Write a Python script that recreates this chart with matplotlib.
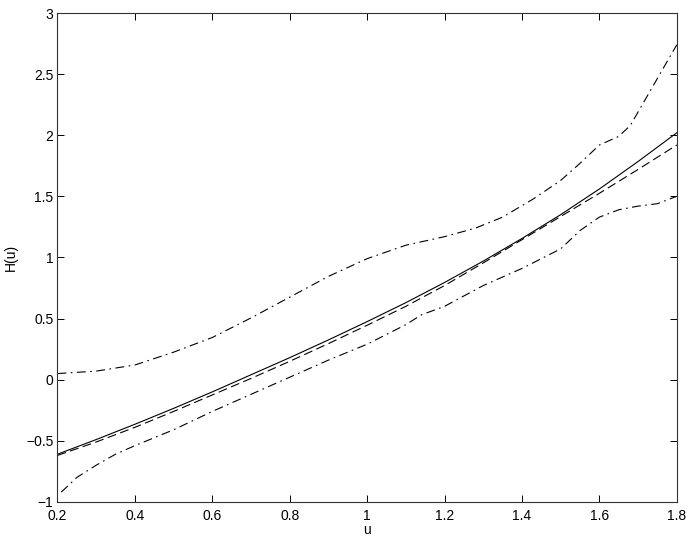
import matplotlib

matplotlib.use("Agg")
import matplotlib.pyplot as plt

plt.rcParams["font.family"] = ["Liberation Sans", "DejaVu Sans"]
plt.rcParams["font.size"] = 10

# estimate H(u) and reference curve, sampled on u = 0.2 .. 1.8
u_line = [0.2, 0.3, 0.4, 0.5, 0.6, 0.7, 0.8, 0.9, 1.0, 1.1, 1.2, 1.3, 1.4, 1.5, 1.6, 1.7, 1.8]
h_true = [-0.61, -0.49, -0.365, -0.235, -0.10, 0.04, 0.18, 0.325, 0.475, 0.63, 0.795, 0.97,
          1.155, 1.35, 1.56, 1.785, 2.02]
h_est = [-0.62, -0.51, -0.39, -0.26, -0.125, 0.01, 0.15, 0.295, 0.445, 0.60, 0.77, 0.955,
         1.145, 1.335, 1.525, 1.72, 1.92]

# confidence band
u_upper = [0.2, 0.3, 0.4, 0.5, 0.6, 0.7, 0.8, 0.9, 1.0, 1.1, 1.2, 1.28, 1.35, 1.43, 1.5,
           1.55, 1.6, 1.65, 1.68, 1.72, 1.76, 1.8]
h_upper = [0.05, 0.07, 0.12, 0.225, 0.345, 0.505, 0.675, 0.845, 0.99, 1.10, 1.17, 1.24, 1.33,
           1.48, 1.63, 1.77, 1.92, 1.99, 2.08, 2.30, 2.52, 2.74]
u_lower = [0.21, 0.25, 0.3, 0.35, 0.4, 0.5, 0.6, 0.7, 0.8, 0.9, 1.0, 1.1, 1.14, 1.2, 1.3,
           1.4, 1.5, 1.55, 1.6, 1.65, 1.7, 1.75, 1.8]
h_lower = [-0.92, -0.80, -0.70, -0.61, -0.54, -0.41, -0.26, -0.12, 0.02, 0.16, 0.29, 0.45,
           0.53, 0.60, 0.77, 0.91, 1.07, 1.22, 1.33, 1.39, 1.42, 1.44, 1.50]

fig = plt.figure(figsize=(6.92, 5.42), dpi=100)
ax = fig.add_axes([0.083, 0.074, 0.895, 0.902])

lw = 0.8
ax.plot(u_line, h_true, "-", color="black", lw=lw)
ax.plot(u_line, h_est, color="black", lw=lw, linestyle=(0, (8, 4)))
dashdot = (0, (8, 4, 1.5, 4))
ax.plot(u_upper, h_upper, color="black", lw=lw, linestyle=dashdot)
ax.plot(u_lower, h_lower, color="black", lw=lw, linestyle=dashdot)

ax.set_xlim(0.2, 1.8)
ax.set_ylim(-1, 3)
ax.set_xticks([0.2, 0.4, 0.6, 0.8, 1.0, 1.2, 1.4, 1.6, 1.8])
ax.set_xticklabels(["0.2", "0.4", "0.6", "0.8", "1", "1.2", "1.4", "1.6", "1.8"])
ax.set_yticks([-1, -0.5, 0, 0.5, 1, 1.5, 2, 2.5, 3])
ax.set_yticklabels(["\u22121", "\u22120.5", "0", "0.5", "1", "1.5", "2", "2.5", "3"])
ax.tick_params(direction="in", length=5, width=0.7, top=True, right=True)
ax.tick_params(axis="x", pad=5)
ax.tick_params(axis="y", pad=3)
for s in ax.spines.values():
    s.set_linewidth(0.8)
    s.set_color("#333333")

ax.set_xlabel("u", labelpad=0)
ax.set_ylabel("H(u)", labelpad=6)

fig.savefig("out.png", dpi=100)
